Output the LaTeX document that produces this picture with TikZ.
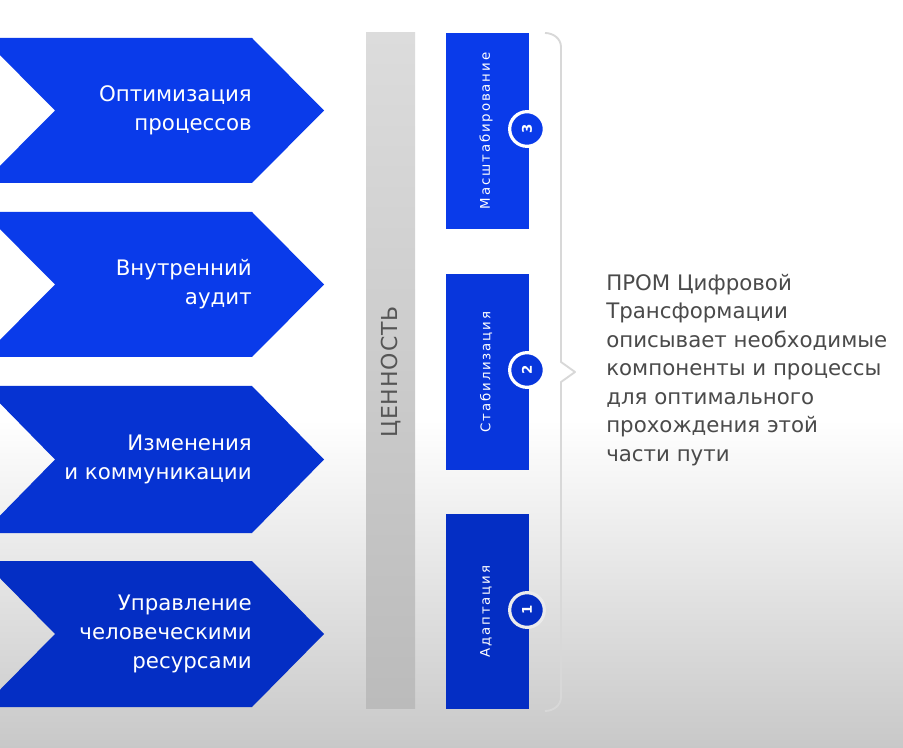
\documentclass[tikz,border=0pt]{standalone}
\usepackage{fontspec}
\setmainfont{DejaVu Sans}
\definecolor{pblue}{HTML}{0A3BEA}
\definecolor{pblueB}{HTML}{0633D2}
\definecolor{pblueC}{HTML}{042EC4}
\definecolor{txtgray}{HTML}{4A4A4A}
\definecolor{valgray}{HTML}{555555}
\definecolor{barTop}{HTML}{DCDCDC}
\definecolor{barBot}{HTML}{BBBBBB}
\definecolor{bracegray}{HTML}{D8D8D8}
\definecolor{bgBot}{HTML}{C8C8C8}
\tikzset{
  chev/.style={fill=pblue},
  chevtext/.style={anchor=east, align=right, text=white, inner sep=0pt,
    font=\fontsize{16}{21.75}\selectfont},
  bluebox/.style={fill=pblue, minimum width=62.25pt, inner sep=0pt},
  boxtext/.style={rotate=90, text=white, inner sep=0pt,
    font=\fontsize{10}{11}\selectfont\addfontfeatures{LetterSpace=14}},
  numcirc/.style={circle, fill=pblue, draw=white, line width=2.4pt,
    minimum size=26pt, inner sep=0pt, text=white, rotate=90,
    font=\fontsize{10}{11}\selectfont\bfseries},
  bracel/.style={draw=bracegray, line width=1.4pt, line join=round},
}
\begin{document}
\begin{tikzpicture}[x=0.75pt,y=-0.75pt]
\useasboundingbox (0,0) rectangle (903,748);
\fill[white] (0,0) rectangle (903,748);
\shade[top color=white, bottom color=bgBot] (0,420) rectangle (903,748);
% chevrons
\path[chev] (-17,38)  -- (252,38)  -- (324,110.5) -- (252,183) -- (-17,183) -- (55,110.5) -- cycle;
\path[chev] (-17,212) -- (252,212) -- (324,284.5) -- (252,357) -- (-17,357) -- (55,284.5) -- cycle;
\path[chev, fill=pblueB] (-17,386) -- (252,386) -- (324,459.5) -- (252,533) -- (-17,533) -- (55,459.5) -- cycle;
\path[chev, fill=pblueC] (-17,561) -- (252,561) -- (324,634)   -- (252,707) -- (-17,707) -- (55,634)   -- cycle;
\node[chevtext] (t1) at (252,110.5) {Оптимизация\\процессов};
\node[chevtext] (t2) at (252,284) {Внутренний\\аудит};
\node[chevtext] (t3) at (252,459) {Изменения\\и коммуникации};
\node[chevtext] (t4) at (252,634) {Управление\\человеческими\\ресурсами};
% value bar
\shade[top color=barTop, bottom color=barBot] (366,33) rectangle (415,708);
\node[rotate=90, text=valgray, inner sep=0pt, font=\fontsize{16.5}{18}\selectfont\addfontfeatures{LetterSpace=4}] (val) at (391,372) {ЦЕННОСТЬ};
% stage boxes
\node[bluebox, minimum height=147pt] (b3) at (487.5,131) {};
\node[bluebox, minimum height=147pt, fill=pblueB!60!pblue] (b2) at (487.5,372) {};
\node[bluebox, minimum height=146.25pt, fill=pblueC] (b1) at (487.5,611.5) {};
\node[boxtext] (bt3) at (486,131) {Масштабирование};
\node[boxtext] (bt2) at (486,372) {Стабилизация};
\node[boxtext] (bt1) at (486,611.5) {Адаптация};
\node[numcirc] (c3) at (527,129) {3};
\node[numcirc, fill=pblueB!60!pblue] (c2) at (527,370) {2};
\node[numcirc, fill=pblueC, draw=white!92!black] (c1) at (527,610) {1};
% brace
\coordinate (btop) at (545,33);
\coordinate (bbot) at (545,711);
\coordinate (btip) at (575,372);
\draw[bracel] (btop) to[out=0,in=90] (561,47) -- (561,362) -- (btip) -- (561,382) -- (561,697) to[out=-90,in=0] (bbot);
% description
\node[anchor=west, align=left, text=txtgray, inner sep=0pt,
  font=\fontsize{16}{21.4}\selectfont] (desc) at (606,370)
  {ПРОМ Цифровой\\Трансформации\\описывает необходимые\\компоненты и процессы\\для оптимального\\прохождения этой\\части пути};
\end{tikzpicture}
\end{document}
